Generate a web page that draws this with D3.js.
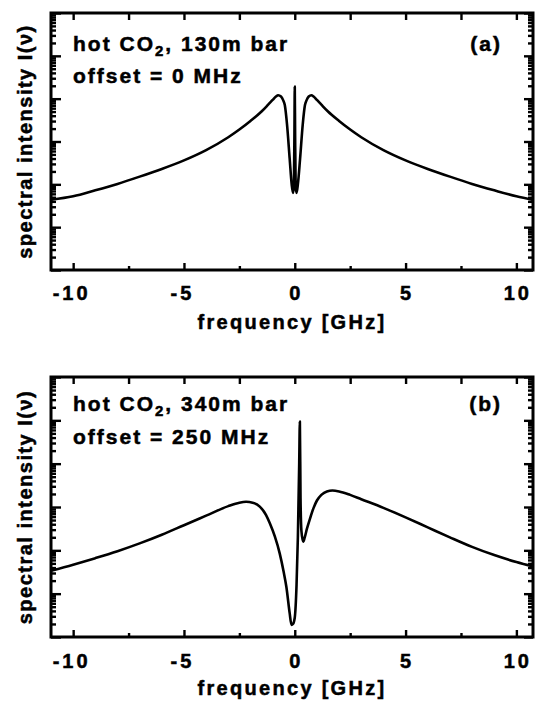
<!DOCTYPE html>
<html>
<head>
<meta charset="utf-8">
<script src="https://cdn.jsdelivr.net/npm/d3@7"></script>
<style>
  html, body { margin: 0; padding: 0; background: #fff; }
  svg { display: block; }
  text { font-family: "Liberation Sans", Arial, Helvetica, sans-serif; font-weight: bold; fill: #000;
         stroke: #000; stroke-width: 0.5px; }
</style>
</head>
<body>
<svg id="chart" width="537" height="701"></svg>
<script>
// Frequency detuning in GHz and spectral intensity in decades (log10 I)
const freqA = [-11, -10, -9, -8, -7, -6, -5, -4, -3, -2.5, -2, -1.5, -1.2, -1.0, -0.85, -0.75, -0.62, -0.52,
  -0.45, -0.35, -0.23, -0.14, -0.08, -0.04, -0.015, 0, 0.015, 0.04, 0.08, 0.14, 0.24, 0.36, 0.46, 0.53,
  0.63, 0.75, 0.85, 1.0, 1.2, 1.5, 2, 2.5, 3, 4, 5, 6, 7, 8, 9, 10, 10.8];
const logIA = [1.64, 1.72, 1.86, 2.01, 2.18, 2.36, 2.56, 2.8, 3.1, 3.28, 3.48, 3.7, 3.86, 3.97, 4.05, 4.08, 4.05, 3.96,
  3.85, 3.4, 2.6, 2.0, 1.8, 1.95, 3.2, 4.28, 3.2, 1.95, 1.8, 2.0, 2.6, 3.4, 3.85, 3.96,
  4.05, 4.08, 4.05, 3.97, 3.86, 3.7, 3.48, 3.28, 3.1, 2.8, 2.56, 2.36, 2.18, 2.01, 1.86, 1.72, 1.63];

const freqB = [-11, -10, -9, -8, -7, -6, -5, -4, -3, -2.5, -2.2, -1.9, -1.58, -1.3, -1.13, -0.9, -0.68, -0.5,
  -0.38, -0.23, -0.15, -0.08, 0, 0.08, 0.14, 0.2, 0.23, 0.26, 0.3, 0.38, 0.45, 0.55, 0.68, 0.85, 1.0,
  1.2, 1.45, 1.7, 2.0, 2.5, 3, 4, 5, 6, 7, 8, 9, 10, 10.8];
const logIB = [1.53, 1.67, 1.82, 1.98, 2.16, 2.36, 2.58, 2.8, 3.02, 3.1, 3.12, 3.1, 3.01, 2.82, 2.63, 2.32, 1.93, 1.5,
  1.16, 0.55, 0.28, 0.3, 0.45, 1.2, 2.3, 4.0, 4.97, 3.2, 2.45, 2.2, 2.3, 2.5, 2.72, 2.98, 3.15,
  3.28, 3.36, 3.38, 3.36, 3.28, 3.18, 2.98, 2.76, 2.53, 2.3, 2.08, 1.89, 1.73, 1.62];

const xMajorTicks = [-10, -5, 0, 5, 10];
const xMinorTicks = [-7.5, -2.5, 2.5, 7.5];
const xTickLabels = ["-10", "-5", "0", "5", "10"];

const panels = [
  { id: "a", freq: freqA, logI: logIA, top: 13, bottom: 270,
    line1: "130m bar", line2: "offset = 0 MHz", tag: "(a)", textY1: 51, textY2: 83,
    tickLabelY: 300, xLabelY: 329 },
  { id: "b", freq: freqB, logI: logIB, top: 377, bottom: 637,
    line1: "340m bar", line2: "offset = 250 MHz", tag: "(b)", textY1: 411, textY2: 444,
    tickLabelY: 668, xLabelY: 695 }
];

const svg = d3.select("#chart");
const left = 51, right = 533;

const x = d3.scaleLinear().domain([-11, 10.75]).range([left, right]);

// Minor log ticks 2..9 within each decade, majors at each decade
const decades = d3.range(0, 7).map(k => Math.pow(10, k));
const minorLog = [];
for (let k = 0; k < 6; k++) for (let m = 2; m <= 9; m++) minorLog.push(m * Math.pow(10, k));

panels.forEach(p => {
  const y = d3.scaleLog().domain([1, 1e6]).range([p.bottom, p.top]);
  const g = svg.append("g").attr("class", "panel-" + p.id);
  const h = p.bottom - p.top;

  g.append("clipPath").attr("id", "clip-" + p.id)
    .append("rect").attr("x", left).attr("y", p.top).attr("width", right - left).attr("height", h);

  // Inward ticks on all four sides
  const tickStyle = sel => {
    sel.select(".domain").remove();
    sel.selectAll(".tick line").attr("stroke", "#000").attr("stroke-width", 2.4);
    sel.selectAll(".tick text").remove();
  };
  g.append("g").attr("transform", `translate(0,${p.bottom})`)
    .call(d3.axisBottom(x).tickValues(xMajorTicks).tickSize(-7).tickFormat("")).call(tickStyle);
  g.append("g").attr("transform", `translate(0,${p.bottom})`)
    .call(d3.axisBottom(x).tickValues(xMinorTicks).tickSize(-4).tickFormat("")).call(tickStyle);
  g.append("g").attr("transform", `translate(0,${p.top})`)
    .call(d3.axisTop(x).tickValues(xMajorTicks.concat(xMinorTicks)).tickSize(-7).tickFormat("")).call(tickStyle);

  g.append("g").attr("transform", `translate(${left},0)`)
    .call(d3.axisLeft(y).tickValues(decades).tickSize(-10).tickFormat("")).call(tickStyle);
  g.append("g").attr("transform", `translate(${left},0)`)
    .call(d3.axisLeft(y).tickValues(minorLog).tickSize(-5).tickFormat("")).call(tickStyle);
  g.append("g").attr("transform", `translate(${right},0)`)
    .call(d3.axisRight(y).tickValues(decades).tickSize(-9).tickFormat("")).call(tickStyle);
  g.append("g").attr("transform", `translate(${right},0)`)
    .call(d3.axisRight(y).tickValues(minorLog).tickSize(-5).tickFormat("")).call(tickStyle);

  // Spectrum
  const pts = p.freq.map((f, i) => [f, Math.pow(10, p.logI[i])]);
  g.append("path")
    .datum(pts)
    .attr("clip-path", `url(#clip-${p.id})`)
    .attr("fill", "none")
    .attr("stroke", "#000")
    .attr("stroke-width", 2.6)
    .attr("stroke-linejoin", "round")
    .attr("d", d3.line().x(d => x(d[0])).y(d => y(d[1])).curve(d3.curveMonotoneX));

  // Frame
  g.append("rect")
    .attr("x", left).attr("y", p.top).attr("width", right - left).attr("height", h)
    .attr("fill", "none").attr("stroke", "#000").attr("stroke-width", 3);

  // Tick labels (letter-spacing adds trailing space, so shift by half of it)
  const tickLS = 3;
  g.selectAll(".xlab").data(xMajorTicks).enter().append("text")
    .attr("x", d => x(d) + tickLS / 2 + (d < 0 ? -3 : 0))
    .attr("y", p.tickLabelY)
    .attr("text-anchor", "middle")
    .attr("font-size", 20)
    .attr("letter-spacing", tickLS)
    .text((d, i) => xTickLabels[i]);

  // Axis titles
  g.append("text")
    .attr("x", (left + right) / 2).attr("y", p.xLabelY)
    .attr("text-anchor", "middle").attr("font-size", 20).attr("letter-spacing", 2.3)
    .text("frequency [GHz]");
  g.append("text")
    .attr("transform", `translate(32,${(p.top + p.bottom) / 2}) rotate(-90)`)
    .attr("text-anchor", "middle").attr("font-size", 20).attr("letter-spacing", 1.5)
    .text("spectral intensity I(ν)");

  // Annotations
  const t1 = g.append("text").attr("x", 73).attr("y", p.textY1)
    .attr("font-size", 21).attr("letter-spacing", 2);
  t1.append("tspan").text("hot CO");
  t1.append("tspan").attr("font-size", 15).attr("dy", 5).text("2");
  t1.append("tspan").attr("dy", -5).text(", " + p.line1);
  g.append("text").attr("x", 73).attr("y", p.textY2)
    .attr("font-size", 21).attr("letter-spacing", 2).text(p.line2);
  g.append("text").attr("x", 502).attr("y", p.textY1)
    .attr("text-anchor", "end").attr("font-size", 21).attr("letter-spacing", 2).text(p.tag);
});
</script>
</body>
</html>
